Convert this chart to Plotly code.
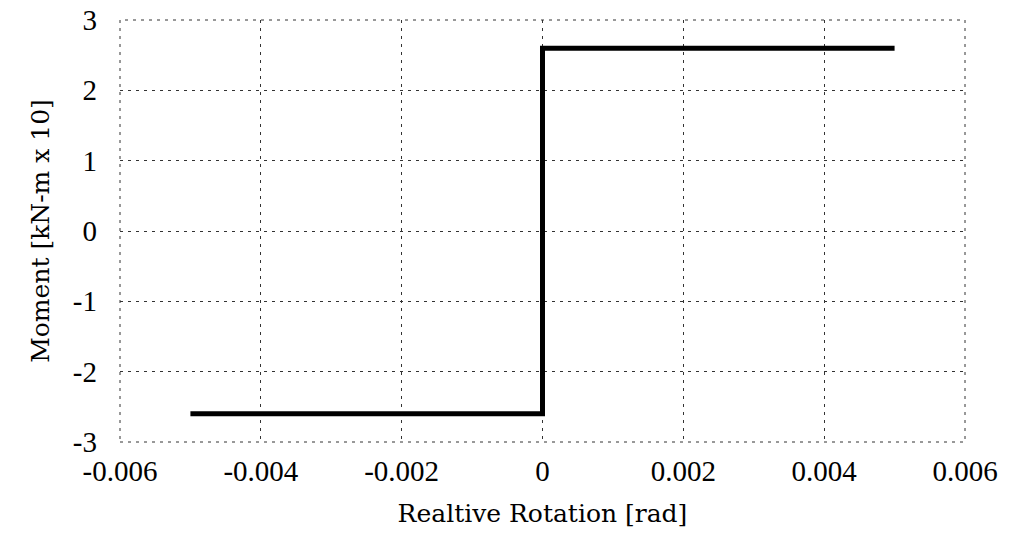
import plotly.graph_objects as go

# moment-rotation curve (rigid-plastic step)
rotation = [-0.005, 0.0, 0.0, 0.005]
moment = [-2.6, -2.6, 2.6, 2.6]

x_ticks = [-0.006, -0.004, -0.002, 0, 0.002, 0.004, 0.006]
x_labels = ["-0.006", "-0.004", "-0.002", "0", "0.002", "0.004", "0.006"]
y_ticks = [-3, -2, -1, 0, 1, 2, 3]
y_labels = ["-3", "-2", "-1", "0", "1", "2", "3"]

fig = go.Figure(go.Scatter(
    x=rotation, y=moment, mode="lines",
    line=dict(color="black", width=5),
    showlegend=False
))

axis_common = dict(
    showgrid=True, gridcolor="#333", griddash="3px,5px", gridwidth=1,
    zeroline=False, showline=False, ticks="", automargin=False,
    ticklabeloverflow="allow",
    tickfont=dict(family="Liberation Serif, serif", size=29, color="black"),
)

fig.update_layout(
    width=1012, height=545,
    paper_bgcolor="white", plot_bgcolor="white",
    margin=dict(l=120, r=47, t=20, b=103),
    font=dict(family="DejaVu Serif, serif", color="black"),
    xaxis=dict(range=[-0.006, 0.006], tickvals=x_ticks, ticktext=x_labels,
               ticklabelstandoff=9,
               title=dict(text="Realtive Rotation [rad]",
                          font=dict(size=25), standoff=18),
               **axis_common),
    yaxis=dict(range=[-3, 3], tickvals=y_ticks, ticktext=y_labels,
               ticklabelstandoff=22,
               title=dict(text="Moment [kN-m x 10]",
                          font=dict(size=25), standoff=16),
               **axis_common),
)

# dotted frame around the plot area
fig.add_shape(type="rect", xref="paper", yref="paper", x0=0, y0=0, x1=1, y1=1,
              line=dict(color="#333", width=1, dash="3px,5px"), layer="below")

# drop the browser's default body margin so the figure fills the window
fig.write_html("out.html", config={"displayModeBar": False},
               post_script="document.body.style.margin='0';")
